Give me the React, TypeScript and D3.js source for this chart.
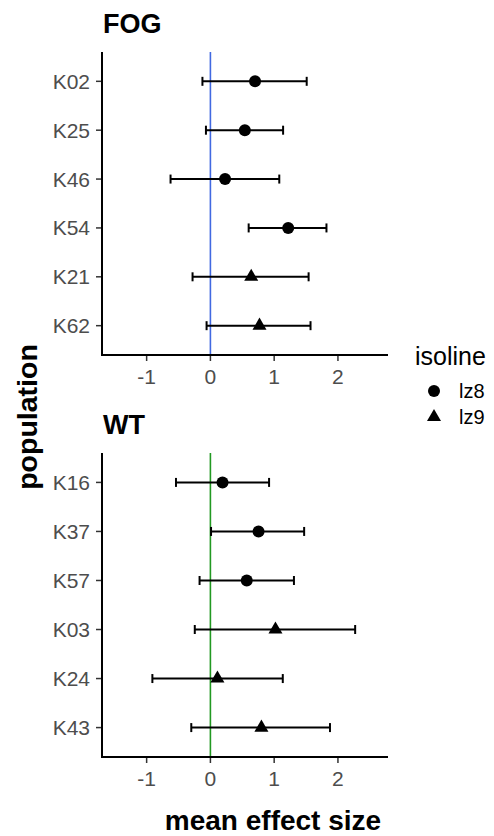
import React from 'react';
import * as d3 from 'd3';

const fogPops = ['K02', 'K25', 'K46', 'K54', 'K21', 'K62'];
const fogMean = [0.7, 0.54, 0.23, 1.22, 0.64, 0.77];
const fogLow = [-0.125, -0.07, -0.625, 0.6, -0.28, -0.06];
const fogHigh = [1.51, 1.14, 1.08, 1.82, 1.54, 1.57];
const fogIsoline = ['lz8', 'lz8', 'lz8', 'lz8', 'lz9', 'lz9'];

const wtPops = ['K16', 'K37', 'K57', 'K03', 'K24', 'K43'];
const wtMean = [0.19, 0.755, 0.57, 1.02, 0.11, 0.8];
const wtLow = [-0.54, 0.01, -0.17, -0.245, -0.91, -0.3];
const wtHigh = [0.92, 1.47, 1.31, 2.27, 1.135, 1.875];
const wtIsoline = ['lz8', 'lz8', 'lz8', 'lz9', 'lz9', 'lz9'];

const xTicks = [-1, 0, 1, 2];
const isolines = ['lz8', 'lz9'];

const W = 494;
const H = 836;
const FONT = '"Liberation Sans", Arial, Helvetica, sans-serif';

const x = d3.scaleLinear().domain([-1.7, 2.785]).range([102, 388]);

const shapeFor = (iso: string, cx: number, cy: number, key: string) => {
    if (iso === 'lz9') {
        const p = d3.symbol().type(d3.symbolTriangle).size(85)();
        return <path key={key} d={p || ''} transform={`translate(${cx},${cy})`} fill="#000" />;
    }
    return <circle key={key} cx={cx} cy={cy} r={6} fill="#000" />;
};

const Panel = ({ title, pops, mean, low, high, iso, top, bottom, refColor }: any) => {
    const y = d3.scalePoint<string>().domain(pops).range([top, bottom]).padding(0.6);
    const [x0, x1] = x.range();
    return (
        <g>
            <text x={103} y={top - 19} fontSize={27} fontWeight="bold" fill="#000">
                {title}
            </text>
            <line x1={x(0)} x2={x(0)} y1={top} y2={bottom} stroke={refColor} strokeWidth={1.6} />
            {pops.map((p: string, i: number) => {
                const cy = y(p) as number;
                return (
                    <g key={p}>
                        <line x1={x(low[i])} x2={x(high[i])} y1={cy} y2={cy} stroke="#000" strokeWidth={2} />
                        <line x1={x(low[i])} x2={x(low[i])} y1={cy - 4.5} y2={cy + 4.5} stroke="#000" strokeWidth={2} />
                        <line x1={x(high[i])} x2={x(high[i])} y1={cy - 4.5} y2={cy + 4.5} stroke="#000" strokeWidth={2} />
                        {shapeFor(iso[i], x(mean[i]), cy, 'pt' + p)}
                        <line x1={x0 - 6} x2={x0} y1={cy} y2={cy} stroke="#333" strokeWidth={1.5} />
                        <text x={x0 - 12} y={cy + 7.5} textAnchor="end" fontSize={21} fill="#4d4d4d">
                            {p}
                        </text>
                    </g>
                );
            })}
            {xTicks.map((t) => (
                <g key={t}>
                    <line x1={x(t)} x2={x(t)} y1={bottom} y2={bottom + 6} stroke="#333" strokeWidth={1.5} />
                    <text x={x(t)} y={bottom + 29} textAnchor="middle" fontSize={21} fill="#4d4d4d">
                        {t}
                    </text>
                </g>
            ))}
            <path d={`M${x0},${top}V${bottom}H${x1}`} fill="none" stroke="#000" strokeWidth={2} />
        </g>
    );
};

export default function App() {
    const legendY = d3.scalePoint<string>().domain(isolines).range([391, 417]);
    return (
        <svg
            width={W}
            height={H}
            style={{ position: 'absolute', left: 0, top: 0, background: '#fff' }}
            fontFamily={FONT}
        >
            <rect width={W} height={H} fill="#fff" />
            <Panel
                title="FOG"
                pops={fogPops}
                mean={fogMean}
                low={fogLow}
                high={fogHigh}
                iso={fogIsoline}
                top={52}
                bottom={355}
                refColor="#4169E1"
            />
            <Panel
                title="WT"
                pops={wtPops}
                mean={wtMean}
                low={wtLow}
                high={wtHigh}
                iso={wtIsoline}
                top={453}
                bottom={757}
                refColor="#229922"
            />
            <text
                transform="translate(37,417) rotate(-90)"
                textAnchor="middle"
                fontSize={28.5}
                fontWeight="bold"
                fill="#000"
            >
                population
            </text>
            <text x={273} y={830} textAnchor="middle" fontSize={28} fontWeight="bold" fill="#000">
                mean effect size
            </text>
            <text x={415} y={365} fontSize={25} fill="#000">
                isoline
            </text>
            {isolines.map((iso) => {
                const cy = legendY(iso) as number;
                return (
                    <g key={iso}>
                        {shapeFor(iso, 434, cy, 'lg' + iso)}
                        <text x={459} y={cy + 7} fontSize={20} fill="#000">
                            {iso}
                        </text>
                    </g>
                );
            })}
        </svg>
    );
}
